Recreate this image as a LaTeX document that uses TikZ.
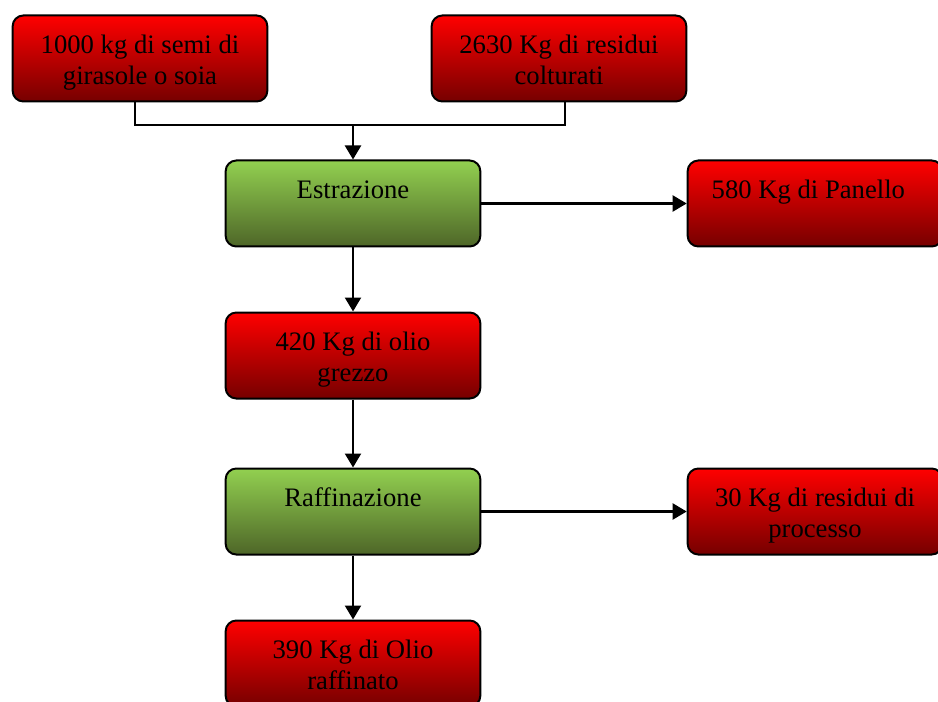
\documentclass[tikz,border=0pt]{standalone}
\usepackage{fontspec}
\setmainfont{Liberation Serif}
\usetikzlibrary{arrows.meta}
\definecolor{redtop}{RGB}{255,0,0}
\definecolor{redbot}{RGB}{118,0,0}
\definecolor{greentop}{RGB}{146,208,80}
\definecolor{greenbot}{RGB}{78,102,40}
% centred lines whose baseline is the first line
\newcommand\stackedlines[2]{\begin{tabular}[t]{@{}c@{}}#1\\#2\end{tabular}}
\tikzset{
  box/.style={draw=black, line width=1.5pt, rounded corners=8pt,
    minimum width=191pt, minimum height=64.5pt, inner sep=0pt},
  redbox/.style={box, top color=redtop, bottom color=redbot},
  greenbox/.style={box, top color=greentop, bottom color=greenbot},
  label/.style={anchor=base, inner sep=0pt,
    font=\fontsize{20}{23.5}\selectfont},
  link/.style={line width=1.8pt},
  flow/.style={link, -{Triangle[length=10.5pt,width=12pt]}}
}
\begin{document}
\begin{tikzpicture}[x=0.75pt,y=-0.75pt]
\useasboundingbox (0,0) rectangle (938,702);

% boxes
\node[redbox]   (seeds)    at (140,58.5)  {};
\node[redbox]   (residues) at (559,58.5)  {};
\node[greenbox] (extr)     at (353,203.5) {};
\node[redbox]   (cake)     at (815,203.5) {};
\node[redbox]   (crude)    at (353,355.5) {};
\node[greenbox] (refine)   at (353,511.5) {};
\node[redbox]   (waste)    at (815,511.5) {};
\node[redbox]   (oil)      at (353,663.5) {};

% labels, first baseline 39px below the top edge
\node[label] (tseeds)    at ([yshift=-29.25pt]seeds.north)    {\stackedlines{1000 kg di semi di}{girasole o soia}};
\node[label] (tresidues) at ([yshift=-29.25pt]residues.north) {\stackedlines{2630 Kg di residui}{colturati}};
\node[label] (textr)     at ([yshift=-29.25pt]extr.north)     {Estrazione};
\node[label] (tcake)     at ([yshift=-29.25pt,xshift=-5pt]cake.north) {580 Kg di Panello};
\node[label] (tcrude)    at ([yshift=-29.25pt]crude.north)    {\stackedlines{420 Kg di olio}{grezzo}};
\node[label] (trefine)   at ([yshift=-29.25pt]refine.north)   {Raffinazione};
\node[label] (twaste)    at ([yshift=-29.25pt]waste.north)    {\stackedlines{30 Kg di residui di}{processo}};
\node[label] (toil)      at ([yshift=-29.25pt]oil.north)      {\stackedlines{390 Kg di Olio}{raffinato}};

% connectors
\coordinate (join) at (353,125);
\draw[link] ([xshift=-3.75pt]seeds.south) |- (join);
\draw[link] ([xshift=4.5pt]residues.south) |- (join);
\draw[flow] (join) -- (extr.north);
\draw[flow] (extr.east) -- (cake.west);
\draw[flow] (extr.south) -- (crude.north);
\draw[flow] (crude.south) -- (refine.north);
\draw[flow] (refine.east) -- (waste.west);
\draw[flow] (refine.south) -- (oil.north);
\end{tikzpicture}
\end{document}
